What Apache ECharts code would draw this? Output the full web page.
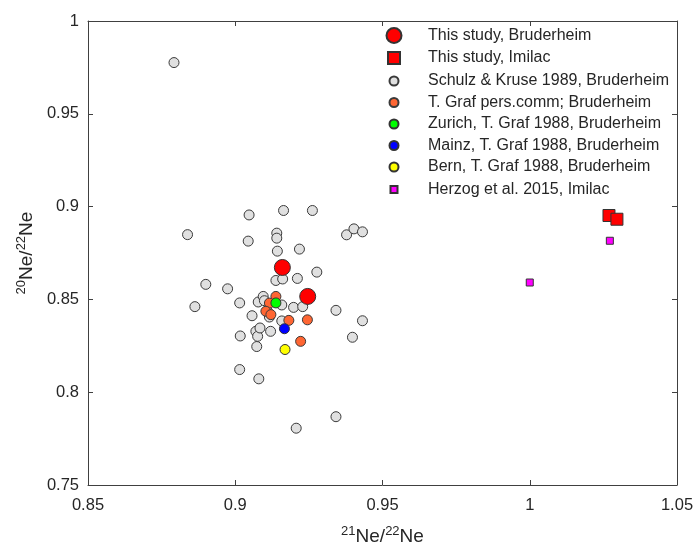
<!DOCTYPE html>
<html>
<head>
<meta charset="utf-8">
<script src="https://cdn.jsdelivr.net/npm/echarts@6/dist/echarts.min.js"></script>
<style>
html,body{margin:0;padding:0;background:#fff;}
#c{width:695px;height:545px;}
</style>
</head>
<body>
<div id="c"></div>
<script>
// ---- data (x = 21Ne/22Ne, y = 20Ne/22Ne) ----
var thisStudyBruderheim = [[0.9160,0.8672],[0.9246,0.8516]];
var thisStudyImilac = [[1.0269,0.8952],[1.0296,0.8932]];
var schulzKruse = [
  [0.8792,0.9776],[0.8838,0.8849],[0.8863,0.8461],[0.8900,0.8581],[0.8974,0.8557],
  [0.9015,0.8481],[0.9017,0.8303],[0.9015,0.8122],[0.9044,0.8814],[0.9047,0.8955],
  [0.9057,0.8412],[0.9070,0.8328],[0.9073,0.8246],[0.9076,0.8301],[0.9078,0.8486],
  [0.9080,0.8072],[0.9084,0.8346],[0.9095,0.8516],[0.9099,0.8493],[0.9110,0.8435],
  [0.9116,0.8405],[0.9120,0.8328],[0.9138,0.8602],[0.9141,0.8857],[0.9141,0.8830],
  [0.9143,0.8760],[0.9158,0.8470],[0.9158,0.8384],[0.9161,0.8610],[0.9164,0.8979],
  [0.9198,0.8457],[0.9207,0.7806],[0.9211,0.8613],[0.9218,0.8771],[0.9229,0.8461],
  [0.9262,0.8979],[0.9277,0.8647],[0.9342,0.8441],[0.9342,0.7868],[0.9378,0.8848],
  [0.9398,0.8296],[0.9403,0.8880],[0.9432,0.8864],[0.9432,0.8385]
];
var grafPers = [[0.9138,0.8516],[0.9116,0.8480],[0.9104,0.8436],[0.9121,0.8418],
  [0.9182,0.8387],[0.9245,0.8390],[0.9222,0.8274]];
var zurich = [[0.9138,0.8481]];
var mainz = [[0.9167,0.8342]];
var bern = [[0.9169,0.8230]];
var herzog = [[1.0000,0.8591],[1.0272,0.8816]];

var seriesNames = [
  'This study, Bruderheim','This study, Imilac','Schulz & Kruse 1989, Bruderheim',
  'T. Graf pers.comm; Bruderheim','Zurich, T. Graf 1988, Bruderheim',
  'Mainz, T. Graf 1988, Bruderheim','Bern, T. Graf 1988, Bruderheim','Herzog et al. 2015, Imilac'
];
var xTicks = {min:0.85, max:1.05, interval:0.05};
var yTicks = {min:0.75, max:1, interval:0.05};

// ---- styling ----
var FONT = 'Liberation Sans, Arial, sans-serif';
var TXT = '#262626';
var styles = [
  {data:thisStudyBruderheim, symbol:'circle', size:16, leg:15, color:'#ff0000', border:'#333', z:6},
  {data:thisStudyImilac, symbol:'rect', size:12, leg:12, color:'#ff0000', border:'#333', z:6},
  {data:schulzKruse, symbol:'circle', size:10, leg:9, color:'#e0e0e0', border:'#3a3a3a', z:2},
  {data:grafPers, symbol:'circle', size:10, leg:9, color:'#ff6633', border:'#3a3a3a', z:3},
  {data:zurich, symbol:'circle', size:10, leg:9, color:'#00ff00', border:'#333', z:4},
  {data:mainz, symbol:'circle', size:10, leg:9, color:'#0000ff', border:'#333', z:4},
  {data:bern, symbol:'circle', size:10, leg:9, color:'#ffff00', border:'#333', z:4},
  {data:herzog, symbol:'rect', size:7, leg:7, color:'#ff00ff', border:'#333', z:5}
];

var series = styles.map(function(s, i){
  return {
    name: seriesNames[i], type:'scatter', data:s.data, symbol:s.symbol, symbolSize:s.size,
    z:s.z, itemStyle:{color:s.color, borderColor:s.border, borderWidth:1, opacity:1},
    emphasis:{disabled:true}, xAxisIndex:0, yAxisIndex:0
  };
});

var iconX = 393, textX = 427, row0 = 34.5, rowGap = 21.5;
var legends = styles.map(function(s, i){
  var cy = row0 + i*rowGap;
  return {
    data:[seriesNames[i]], left: iconX - s.leg/2, top: cy - s.leg/2,
    itemWidth:s.leg, itemHeight:s.leg, padding:0, selectedMode:false, orient:'horizontal',
    textStyle:{fontSize:16, color:TXT, fontFamily:FONT, padding:[0,0,0, textX - (iconX + s.leg/2 + 5)]}
  };
});

var rich = {
  n:{fontSize:19, color:TXT, fontFamily:FONT, lineHeight:24},
  s:{fontSize:13, color:TXT, fontFamily:FONT, lineHeight:13, verticalAlign:'top'}
};
function baseAxis(t, pos, showLabel, name, gap, margin){
  return {
    type:'value', position:pos, min:t.min, max:t.max, interval:t.interval,
    axisLine:{show:true, onZero:false, lineStyle:{color:'#404040', width:1}},
    axisTick:{show:true, inside:true, length:5, lineStyle:{color:'#404040'}},
    axisLabel:{show:showLabel, fontSize:16.5, color:TXT, fontFamily:FONT, margin:margin||9},
    splitLine:{show:false},
    name:name||'', nameLocation:'middle', nameGap:gap||0,
    nameTextStyle:{rich:rich}
  };
}

var option = {
  backgroundColor:'#fff',
  animation:false,
  grid:{left:88, right:18, top:21, bottom:60, containLabel:false, outerBoundsMode:'none'},
  xAxis:[
    baseAxis(xTicks,'bottom',true,'{s|21}{n|Ne/}{s|22}{n|Ne}',40,12),
    baseAxis(xTicks,'top',false)
  ],
  yAxis:[
    baseAxis(yTicks,'left',true,'{s|20}{n|Ne/}{s|22}{n|Ne}',47,9),
    baseAxis(yTicks,'right',false)
  ],
  legend:legends,
  series:series
};
var chart = echarts.init(document.getElementById('c'), null, {renderer:'canvas'});
chart.setOption(option);
</script>
</body>
</html>
